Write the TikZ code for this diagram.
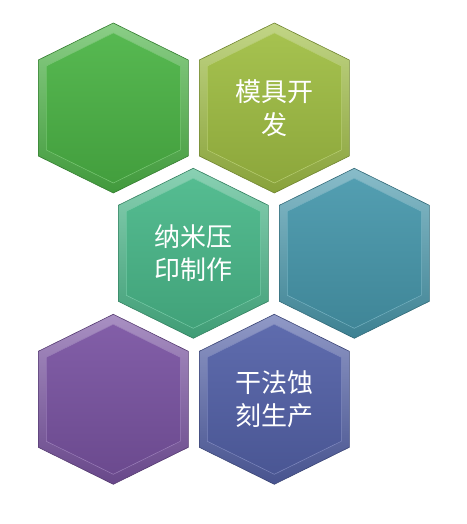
\documentclass[tikz,border=0pt]{standalone}
\usepackage{fontspec}
\newfontfamily\cjk{Noto Sans CJK SC}
\usetikzlibrary{backgrounds}
\definecolor{hexgreen}{RGB}{76,180,70}
\definecolor{hexlime}{RGB}{160,190,68}
\definecolor{hexjade}{RGB}{74,184,138}
\definecolor{hexteal}{RGB}{72,152,172}
\definecolor{hexviolet}{RGB}{122,84,162}
\definecolor{hexindigo}{RGB}{84,98,168}

\begin{document}
\begin{tikzpicture}[x=1pt,y=1pt]
\tikzset{font=\cjk\fontsize{26}{33}\selectfont}
\tikzset{hexlabel/.style={text=white, align=center, inner sep=0pt}}
\tikzset{rim/.style={draw=#1!70!black, line width=0.6pt, top color=#1!65!white, middle color=#1, bottom color=#1!85!black}}
\tikzset{face/.style={draw=#1!75!white, line width=0.5pt, top color=#1!94!white, bottom color=#1!88!black}}
\useasboundingbox (0,0) rectangle (466,524);
\node[hexlabel] (start)   at (113.3,416) {};
\node[hexlabel] (mold)    at (274.3,416) {模具开\\发};
\node[hexlabel] (imprint) at (193.3,270.7) {纳米压\\印制作};
\node[hexlabel] (check)   at (354.3,270.7) {};
\node[hexlabel] (clean)   at (113.3,124.7) {};
\node[hexlabel] (etch)    at (274.3,124.7) {干法蚀\\刻生产};
% bevelled hexagons behind the labels
\begin{scope}[on background layer]
\foreach \name/\col in {start/hexgreen, mold/hexlime, imprint/hexjade, check/hexteal, clean/hexviolet, etch/hexindigo} {
  \shade[rim=\col] (\name.center) ++(0,85) -- ++(75,-37) -- ++(0,-96) -- ++(-75,-37) -- ++(-75,37) -- ++(0,96) -- cycle;
  \shade[face=\col] (\name.center) ++(0,75) -- ++(67,-33) -- ++(0,-84) -- ++(-67,-33) -- ++(-67,33) -- ++(0,84) -- cycle;
}
\end{scope}
\end{tikzpicture}
\end{document}
